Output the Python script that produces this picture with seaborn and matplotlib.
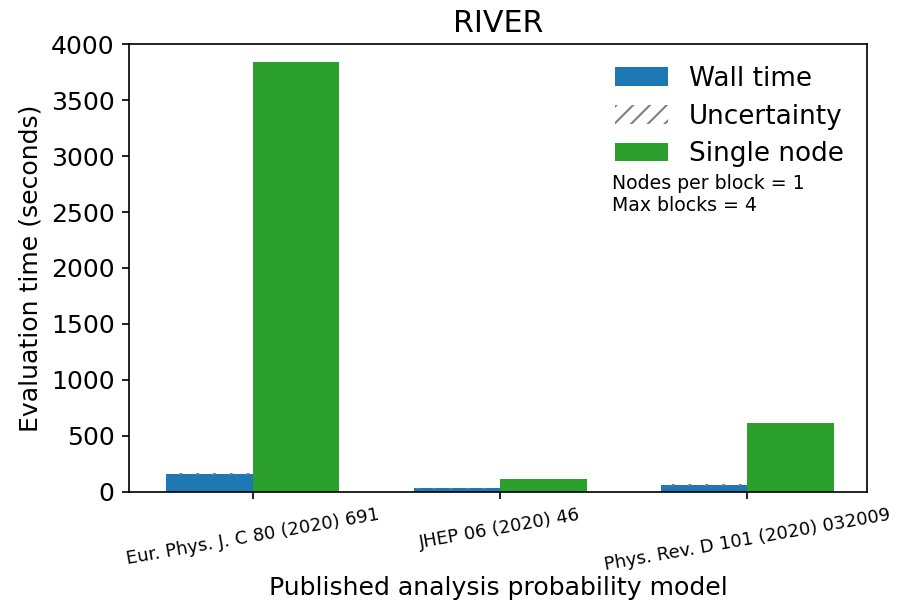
import matplotlib
matplotlib.use("Agg")
import matplotlib.pyplot as plt
import matplotlib.patches as mpatches
import numpy as np
import pandas as pd
import seaborn as sns

models = ["Eur. Phys. J. C 80 (2020) 691", "JHEP 06 (2020) 46", "Phys. Rev. D 101 (2020) 032009"]
wall_time = [157, 30, 57]
wall_uncertainty = [10, 5, 6]
single_node = [3845, 112, 615]

blue = "#1f77b4"
green = "#2ca02c"

df = pd.DataFrame({
    "model": models * 2,
    "time": wall_time + single_node,
    "kind": ["Wall time"] * len(models) + ["Single node"] * len(models),
})

DPI = 151
fig = plt.figure(figsize=(907 / DPI, 605 / DPI), dpi=DPI)
ax = fig.add_axes([0.1425, 0.1876, 0.8135, 0.739])

sns.barplot(data=df, x="model", y="time", hue="kind", palette=[blue, green],
            saturation=1, width=0.7, ax=ax, legend=False)

# uncertainty band on top of the wall-time bars
xpos = np.arange(len(models)) - 0.175
lo = np.array(wall_time) - np.array(wall_uncertainty)
ax.bar(xpos, 2 * np.array(wall_uncertainty), bottom=lo, width=0.35,
       facecolor="none", edgecolor="gray", hatch="///", linewidth=0)

ax.set_ylim(0, 4000)
ax.set_xlim(-0.5, 2.485)
ax.set_title("RIVER", fontsize=14.4)
ax.set_xlabel("Published analysis probability model", fontsize=12, labelpad=1)
ax.set_ylabel("Evaluation time (seconds)", fontsize=12)
ax.tick_params(axis="y", labelsize=12)
ax.tick_params(axis="x", labelsize=8.6)
plt.setp(ax.get_xticklabels(), rotation=10, ha="center")

handles = [
    mpatches.Patch(facecolor=blue, label="Wall time"),
    mpatches.Patch(facecolor="white", edgecolor="gray", hatch="///", linewidth=0, label="Uncertainty"),
    mpatches.Patch(facecolor=green, label="Single node"),
]
ax.legend(handles=handles, loc="upper right", fontsize=12.5, frameon=False,
          labelspacing=0.45, bbox_to_anchor=(1.0, 1.005))
ax.text(0.654, 0.71, "Nodes per block = 1\nMax blocks = 4", transform=ax.transAxes,
        fontsize=9, va="top", ha="left")

fig.savefig("out.png", dpi=DPI)
